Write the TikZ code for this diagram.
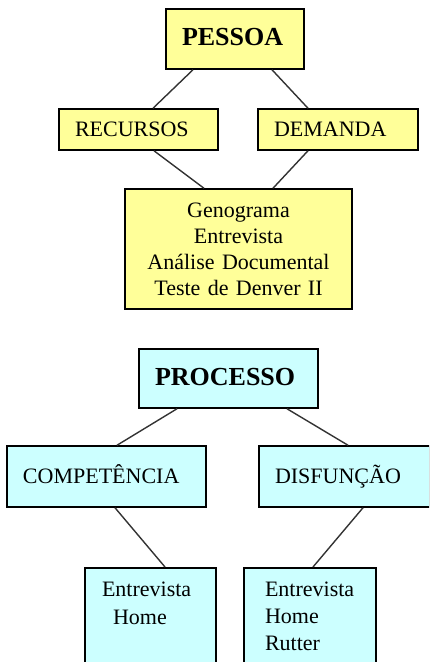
\documentclass[tikz,border=0pt]{standalone}
\usepackage{fontspec}
\setmainfont{Liberation Serif}
\definecolor{boxyellow}{RGB}{255,255,153}
\definecolor{boxcyan}{RGB}{204,255,255}

\begin{document}
\begin{tikzpicture}[
    x=1pt, y=-1pt,
    blk/.style={draw=black, line width=1.5pt, inner xsep=16pt, inner ysep=0pt, align=left,
        font=\fontsize{22}{26}\selectfont},
    title-blk/.style={blk, text depth=0.34em, font=\fontsize{26}{30}\selectfont\bfseries},
    item-blk/.style={blk, text depth=0.4em},
    pessoa-fill/.style={fill=boxyellow},
    processo-fill/.style={fill=boxcyan},
    tools-blk/.style={blk, processo-fill, anchor=north, inner ysep=14pt},
    link/.style={draw=black!80, line width=1.4pt}
  ]

\useasboundingbox (0,0) rectangle (429,662);
\clip (0,0) rectangle (429,662);

% Pessoa tree
\node[title-blk, pessoa-fill, text width=106pt, minimum height=60pt] (pessoa) at (235,39) {PESSOA};
\node[blk, pessoa-fill, text width=127pt, minimum height=41pt] (recursos) at (138.5,129.5) {RECURSOS};
\node[blk, pessoa-fill, text width=128pt, minimum height=41pt] (demanda) at (338,129.5) {DEMANDA};
\node[blk, pessoa-fill, align=center, text width=195pt, minimum height=120pt] (tecnicas) at (238.5,249)
    {Genograma\\Entrevista\\Análise Documental\\Teste de Denver II};

\draw[link] ([xshift=-42pt]pessoa.south) -- ([xshift=14.5pt]recursos.north);
\draw[link] ([xshift=37pt]pessoa.south) -- ([xshift=-30pt]demanda.north);
\draw[link] ([xshift=15.5pt]recursos.south) -- ([xshift=-34.5pt]tecnicas.north);
\draw[link] ([xshift=-30pt]demanda.south) -- ([xshift=34.5pt]tecnicas.north);

% Processo tree
\node[title-blk, processo-fill, text width=147pt, minimum height=59pt] (processo) at (228.5,378.5) {PROCESSO};
\node[item-blk, processo-fill, text width=167pt, minimum height=61pt] (competencia) at (106.5,476.5) {COMPETÊNCIA};
\node[item-blk, processo-fill, text width=139pt, minimum height=61pt] (disfuncao) at (344.5,476.5) {DISFUNÇÃO};

% Instruments (cut off at the bottom)
\node[tools-blk, inner xsep=17pt] (comp-tools) at (150.5,567)
    {\parbox[t][130pt][t]{97pt}{\raggedright\baselineskip=28pt Entrevista\\\hspace*{11pt}Home}};
\node[tools-blk, inner xsep=21pt] (disf-tools) at (310,567)
    {\parbox[t][130pt][t]{90pt}{\raggedright\baselineskip=27pt Entrevista\\Home\\Rutter}};

\draw[link] ([xshift=-51.5pt]processo.south) -- ([xshift=10.5pt]competencia.north);
\draw[link] ([xshift=58.5pt]processo.south) -- ([xshift=3.5pt]disfuncao.north);
\draw[link] ([xshift=8.5pt]competencia.south) -- ([xshift=14.5pt]comp-tools.north);
\draw[link] ([xshift=18.5pt]disfuncao.south) -- ([xshift=3pt]disf-tools.north);

\end{tikzpicture}
\end{document}
